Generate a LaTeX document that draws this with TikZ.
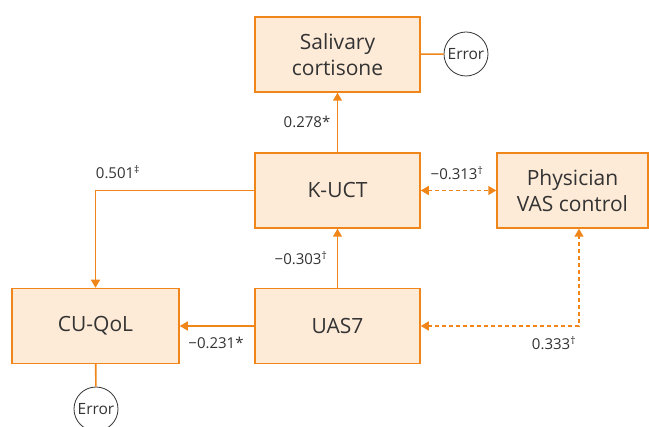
\documentclass[tikz,border=0pt]{standalone}
\usepackage{fontspec}
\setmainfont{Open Sans}
\usetikzlibrary{arrows.meta}
\definecolor{lineorange}{HTML}{F0861A}
\definecolor{boxfill}{HTML}{FDEAD7}
\definecolor{textgray}{HTML}{333333}

\begin{document}
\begin{tikzpicture}[x=1pt,y=-1pt,
  var/.style={draw=lineorange,fill=boxfill,line width=1.5pt,minimum width=165pt,minimum height=75pt,align=center,text=textgray,font=\fontsize{21}{26}\selectfont},
  err/.style={draw=textgray,circle,minimum size=44pt,inner sep=0pt,line width=0.8pt,text=textgray,font=\fontsize{15.5}{18}\selectfont},
  conn/.style={draw=lineorange,line width=1.6pt,>={Triangle[length=8pt,width=9pt]}},
  dconn/.style={conn,dash pattern=on 4pt off 3pt},
  coef/.style={text=textgray,font=\fontsize{15}{17}\selectfont}]

\useasboundingbox (0,0) rectangle (649,427);

% variables
\node[var] (saliv) at (337.5,54.5) {Salivary\\cortisone};
\node[var] (kuct) at (337.5,190.5) {K-UCT};
\node[var,minimum width=151pt] (phys) at (572.5,190.5) {Physician\\VAS control};
\node[var,minimum width=167pt] (cuqol) at (95.5,326) {CU-QoL};
\node[var] (uas) at (337.5,326) {UAS7};

% error terms
\node[err] (err1) at (466,54) {Error};
\node[err] (err2) at (96,409) {Error};

% paths
\draw[conn,->] (kuct) -- (saliv);
\draw[conn,->] (kuct.west) -| (cuqol.north);
\draw[conn,->] (uas) -- (kuct);
\draw[conn,->] (uas) -- (cuqol);
\draw[dconn,<->] (kuct) -- (phys);
\draw[dconn,<->] (uas.east) -| ([xshift=6.5pt]phys.south);
\draw[conn] (saliv) -- (err1);
\draw[conn] (cuqol) -- (err2);

% coefficients
\node[coef] (c1) at (307,122) {0.278*};
\node[coef] (c2) at (118,172) {0.501\textsuperscript{‡}};
\node[coef] (c3) at (301,258) {−0.303\textsuperscript{†}};
\node[coef] (c4) at (216,343) {−0.231*};
\node[coef] (c5) at (457,173) {−0.313\textsuperscript{†}};
\node[coef] (c6) at (554,343) {0.333\textsuperscript{†}};

\end{tikzpicture}
\end{document}
